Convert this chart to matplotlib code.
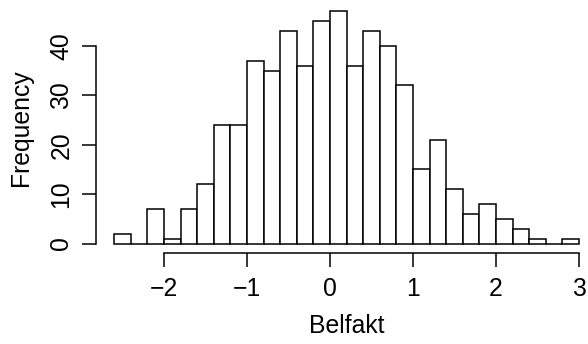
import numpy as np
import matplotlib
matplotlib.use("Agg")
import matplotlib.pyplot as plt

plt.rcParams['font.family'] = ['Liberation Sans', 'DejaVu Sans']

# Histogramm von Belfakt, Klassenbreite 0.2
bin_edges = np.round(np.arange(-2.6, 3.0001, 0.2), 1)
counts = [2, 0, 7, 1, 7, 12, 24, 24, 37, 35, 43, 36, 45, 47,
          36, 43, 40, 32, 15, 21, 11, 6, 8, 5, 3, 1, 0, 1]
x_ticks = [-2, -1, 0, 1, 2, 3]
y_ticks = [0, 10, 20, 30, 40]

FS = 17.8

fig = plt.figure(figsize=(5.88, 3.44), dpi=100)
ax = fig.add_axes([0.1626, 0.2651, 0.8537, 0.729])

ax.bar(bin_edges[:-1], counts, width=np.diff(bin_edges), align='edge',
       facecolor='white', edgecolor='black', linewidth=1.1)

# Achsenbereich wie in R (4 % Rand)
span = bin_edges[-1] - bin_edges[0]
ax.set_xlim(bin_edges[0] - 0.04 * span, bin_edges[-1] + 0.04 * span)
ymax = max(counts)
ax.set_ylim(-0.04 * ymax, ymax * 1.04)

for s in ['top', 'right']:
    ax.spines[s].set_visible(False)
ax.spines['left'].set_bounds(y_ticks[0], y_ticks[-1])
ax.spines['bottom'].set_bounds(x_ticks[0], x_ticks[-1])
for s in ['left', 'bottom']:
    ax.spines[s].set_linewidth(1.1)

ax.set_xticks(x_ticks)
ax.set_xticklabels(['\u2212' + str(abs(v)) if v < 0 else str(v) for v in x_ticks])
ax.set_yticks(y_ticks)
ax.set_yticklabels([str(v) for v in y_ticks], rotation=90, va='center')
ax.tick_params(axis='both', length=10, width=1.1, labelsize=FS)
ax.tick_params(axis='x', pad=7.5)
ax.tick_params(axis='y', pad=6)

ax.set_xlabel('Belfakt', fontsize=FS, labelpad=9)
ax.set_ylabel('Frequency', fontsize=FS, labelpad=12)

fig.savefig('out.png', dpi=100)
